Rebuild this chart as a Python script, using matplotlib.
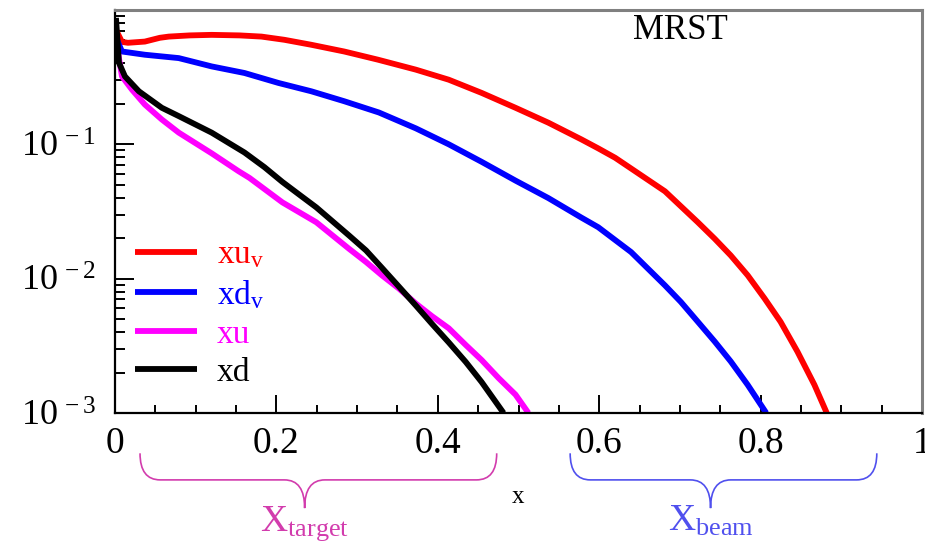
import matplotlib
matplotlib.use('Agg')
import matplotlib.pyplot as plt
from matplotlib.path import Path
from matplotlib.patches import PathPatch
from matplotlib.ticker import FixedLocator, MultipleLocator, LogLocator, NullFormatter
import matplotlib.transforms as mtransforms

plt.rcParams['font.family'] = ['Liberation Serif', 'DejaVu Serif']
plt.rcParams['mathtext.fontset'] = 'custom'
plt.rcParams['mathtext.rm'] = 'Liberation Serif'
plt.rcParams['mathtext.it'] = 'Liberation Serif:italic'

# ---- data ----
x_uv = [0.0012, 0.0086, 0.016, 0.037, 0.0556, 0.0667, 0.0926, 0.1198, 0.1543, 0.1815,
        0.2099, 0.2432, 0.284, 0.3259, 0.3728, 0.4136, 0.4543, 0.4963, 0.537, 0.5778,
        0.5988, 0.6198, 0.6395, 0.6815, 0.7222, 0.7432, 0.763, 0.784, 0.805, 0.8247,
        0.8457, 0.8667, 0.882]
y_uv = [0.711, 0.579, 0.570, 0.582, 0.621, 0.634, 0.647, 0.653, 0.647, 0.634,
        0.600, 0.551, 0.491, 0.4266, 0.3597, 0.3027, 0.2415, 0.1871, 0.1449, 0.1089,
        0.0933, 0.0794, 0.0661, 0.0447, 0.0263, 0.0198, 0.01489, 0.01059, 0.00711, 0.00478,
        0.00286, 0.00162, 0.00100]

x_dv = [0.0025, 0.0086, 0.037, 0.079, 0.1198, 0.1605, 0.2025, 0.2432, 0.284, 0.327,
        0.3728, 0.4136, 0.4543, 0.4963, 0.537, 0.5778, 0.5988, 0.6395, 0.6815, 0.7012,
        0.7222, 0.7432, 0.763, 0.784, 0.807]
y_dv = [0.600, 0.491, 0.4645, 0.4385, 0.3802, 0.3396, 0.2864, 0.2483, 0.2094, 0.1726,
        0.1315, 0.1000, 0.0741, 0.0537, 0.0398, 0.02851, 0.02415, 0.01578, 0.00891, 0.00671,
        0.00478, 0.00340, 0.00242, 0.00162, 0.00100]

x_u = [0.0012, 0.0086, 0.021, 0.037, 0.058, 0.079, 0.1198, 0.1531, 0.1667, 0.2074,
       0.2494, 0.2901, 0.3111, 0.3309, 0.3519, 0.3728, 0.3926, 0.4136, 0.4346, 0.4543,
       0.4753, 0.4963, 0.5123]
y_u = [0.600, 0.3206, 0.2553, 0.1977, 0.1531, 0.1222, 0.0857, 0.0631, 0.0562, 0.03698,
       0.0263, 0.01667, 0.0133, 0.01057, 0.00843, 0.00653, 0.00527, 0.00427, 0.00321, 0.00248,
       0.00182, 0.00137, 0.00100]

x_d = [0.0012, 0.0049, 0.0123, 0.0296, 0.058, 0.079, 0.1198, 0.1605, 0.1852, 0.2074,
       0.2284, 0.2494, 0.2901, 0.3111, 0.3309, 0.3519, 0.3728, 0.3926, 0.4136, 0.4346,
       0.4543, 0.4815]
y_d = [0.873, 0.4046, 0.3206, 0.2483, 0.1871, 0.1622, 0.1222, 0.0869, 0.0676, 0.0525,
       0.0422, 0.03396, 0.02094, 0.01622, 0.01202, 0.00871, 0.00631, 0.00462, 0.00335, 0.00240,
       0.00170, 0.00100]

series_labels = [r'xu$_\mathrm{v}$', r'xd$_\mathrm{v}$', 'xu', 'xd']
series_colors = ['#ff0000', '#0000ff', '#ff00ff', '#000000']

xtick_vals = [0, 0.2, 0.4, 0.6, 0.8, 1.0]
xtick_labels = ['0', '0.2', '0.4', '0.6', '0.8', '1']
ytick_vals = [1e-3, 1e-2, 1e-1]
ytick_labels = [r'$10^{\,-3}$', r'$10^{\,-2}$', r'$10^{\,-1}$']

# ---- figure ----
W, H = 925, 552
fig = plt.figure(figsize=(W / 100, H / 100), dpi=100)
ax = fig.add_axes([115 / W, 1 - 413 / H, (922 - 115) / W, 403 / H])
ax.set_yscale('log')
ax.set_xlim(0, 1)
ax.set_ylim(1e-3, 1)

for xs, ys, c, lab in zip([x_uv, x_dv, x_u, x_d], [y_uv, y_dv, y_u, y_d],
                          series_colors, series_labels):
    ax.plot(xs, ys, color=c, lw=4.2, label=lab, solid_joinstyle='round',
            solid_capstyle='butt')

# ticks
ax.xaxis.set_major_locator(FixedLocator(xtick_vals))
ax.set_xticklabels(xtick_labels, fontsize=27)
ax.xaxis.set_minor_locator(MultipleLocator(0.05))
ax.yaxis.set_major_locator(FixedLocator(ytick_vals))
ax.set_yticklabels(ytick_labels, fontsize=26)
ax.yaxis.set_minor_locator(LogLocator(base=10, subs=range(2, 10)))
ax.yaxis.set_minor_formatter(NullFormatter())
ax.tick_params(axis='x', which='major', direction='in', length=13, width=1.4, pad=10)
ax.tick_params(axis='x', which='minor', direction='in', length=6, width=1.4)
ax.tick_params(axis='y', which='major', direction='in', length=14, width=1.4, pad=14)
ax.tick_params(axis='y', which='minor', direction='in', length=7, width=1.4)

for s in ['left', 'bottom']:
    ax.spines[s].set_linewidth(1.6)
    ax.spines[s].set_color('black')
for s in ['top', 'right']:
    ax.spines[s].set_linewidth(2.2)
    ax.spines[s].set_color('#808080')

ax.set_xlabel('x', fontsize=18, labelpad=18)

ax.text(0.70, 0.95, 'MRST', transform=ax.transAxes, fontsize=25,
        ha='center', va='center')

leg = ax.legend(loc='upper left', bbox_to_anchor=(0.025, 0.43), frameon=False,
                fontsize=24, handlelength=1.86, handletextpad=0.6,
                labelspacing=0.24, borderpad=0, borderaxespad=0,
                labelcolor=series_colors)


def brace(ax, x0, x1, xc, color, y_top=-0.10, y_mid=-0.166, y_tip=-0.236, dx=0.025):
    tr = mtransforms.blended_transform_factory(ax.transData, ax.transAxes)
    verts = [(x0, y_top), (x0, y_mid), (x0 + dx, y_mid),
             (xc - dx, y_mid),
             (xc, y_mid), (xc, y_tip),
             (xc, y_mid), (xc + dx, y_mid),
             (x1 - dx, y_mid),
             (x1, y_mid), (x1, y_top)]
    codes = [Path.MOVETO, Path.CURVE3, Path.CURVE3,
             Path.LINETO,
             Path.CURVE3, Path.CURVE3,
             Path.CURVE3, Path.CURVE3,
             Path.LINETO,
             Path.CURVE3, Path.CURVE3]
    p = PathPatch(Path(verts, codes), transform=tr, fill=False, edgecolor=color,
                  lw=1.2, clip_on=False)
    ax.add_patch(p)
    return tr


target_color = '#d23cad'
beam_color = '#5050ee'
tr = brace(ax, 0.031, 0.473, 0.235, target_color)
ax.text(0.235, -0.292, r'X$_\mathrm{target}$', transform=tr, color=target_color,
        fontsize=27, ha='center', va='baseline')
tr = brace(ax, 0.564, 0.944, 0.738, beam_color)
ax.text(0.738, -0.292, r'X$_\mathrm{beam}$', transform=tr, color=beam_color,
        fontsize=27, ha='center', va='baseline')

fig.savefig('out.png', dpi=100)
